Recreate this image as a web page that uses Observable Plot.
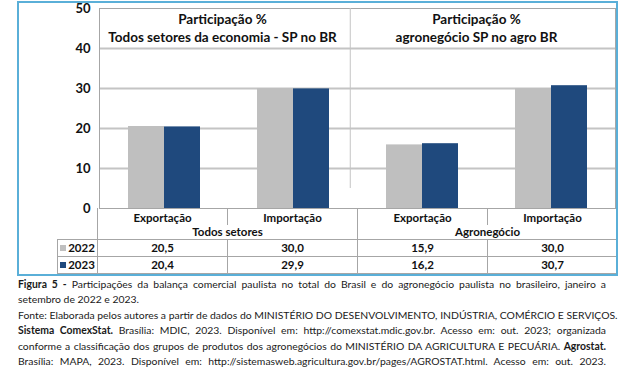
<!DOCTYPE html>
<html>
<head>
<meta charset="utf-8">
<script src="https://cdn.jsdelivr.net/npm/d3@7"></script>
<script src="https://cdn.jsdelivr.net/npm/@observablehq/plot@0.6"></script>
<style>
  html, body { margin: 0; padding: 0; background: #fff; }
  body { width: 624px; height: 379px; position: relative; overflow: hidden; font-family: Lato, sans-serif; }
  #chart { position: absolute; left: 0; top: 0; }
  #border { position: absolute; left: 17px; top: 1px; width: 601px; height: 275px; box-sizing: border-box; border: 2px solid #5aafd8; pointer-events: none; z-index: 5; }
  #tbl { position: absolute; left: 57px; top: 208px; border-collapse: collapse; table-layout: fixed; font: bold 11.5px Lato, sans-serif; color: #111; }
  #tbl td { padding: 0; text-align: center; border: 1px solid #a6a6a6; line-height: 12px; white-space: nowrap; }
  #tbl tr.cat td { height: 17px; padding-top: 2px; border-top: none; border-bottom: none; box-sizing: border-box; }
  #tbl tr.grp td { height: 14px; border-top: none; }
  #tbl tr.val td { height: 16px; }
  #tbl td.blank { border: none; }
  .sw { display: inline-block; width: 6px; height: 6px; margin-right: 2px; vertical-align: 1px; }
  #caption { position: absolute; left: 18px; top: 277px; width: 588px; font-size: 10.4px; line-height: 15.4px; color: #1a1a1a; font-family: Lato, sans-serif; }
  #caption div { white-space: nowrap; text-align: justify; text-align-last: justify; }
  #caption div.left { text-align: left; text-align-last: left; }
</style>
</head>
<body>
<div id="chart"></div>
<table id="tbl"></table>
<div id="border"></div>
<div id="caption"></div>
<script>
// ---- data ----
const categories = ["Exportação", "Importação", "Exportação", "Importação"];
const groups = ["Todos setores", "Todos setores", "Agronegócio", "Agronegócio"];
const years = [2022, 2023];
const values2022 = [20.5, 30.0, 15.9, 30.0];
const values2023 = [20.4, 29.9, 16.2, 30.7];
const yTicks = [0, 10, 20, 30, 40, 50];
const gridTicks = [10, 20, 30, 40];
const titleAll = "Participação %\nTodos setores da economia - SP no BR";
const titleAgro = "Participação %\nagronegócio SP no agro BR";
const colors = ["#bfbfbf", "#1f497d"];
const captionLines = [
  "<b>Figura 5 -</b> Participações da balança comercial paulista no total do Brasil e do agronegócio paulista no brasileiro, janeiro a",
  "setembro de 2022 e 2023.",
  "Fonte: Elaborada pelos autores a partir de dados do MINISTÉRIO DO DESENVOLVIMENTO, INDÚSTRIA, COMÉRCIO E SERVIÇOS.",
  "<b>Sistema ComexStat.</b> Brasília: MDIC, 2023. Disponível em: http://comexstat.mdic.gov.br. Acesso em: out. 2023; organizada",
  "conforme a classificação dos grupos de produtos dos agronegócios do MINISTÉRIO DA AGRICULTURA E PECUÁRIA. <b>Agrostat.</b>",
  "Brasília: MAPA, 2023. Disponível em: http://sistemasweb.agricultura.gov.br/pages/AGROSTAT.html. Acesso em: out. 2023."
];

// ---- derived table ----
const keys = categories.map((c, i) => groups[i] + "|" + c);
const seriesValues = [values2022, values2023];
const rows = keys.flatMap((k, i) => years.map((yr, j) => ({key: k, year: yr, value: seriesValues[j][i]})));
const fmt = v => v.toFixed(1).replace(".", ",");

const chart = Plot.plot({
  width: 624,
  height: 226,
  marginLeft: 97,
  marginRight: 8,
  marginTop: 8,
  marginBottom: 18,
  style: {fontFamily: "Lato, sans-serif", background: "transparent", overflow: "visible"},
  fx: {domain: keys, padding: 0, axis: null},
  x: {domain: years, paddingInner: 0, paddingOuter: 0.753, axis: null},
  y: {domain: [0, 50], axis: null},
  color: {domain: years, range: colors},
  marks: [
    Plot.ruleY(gridTicks, {stroke: "#c4c4c4", strokeWidth: 2}),
    Plot.ruleY([0, 50], {stroke: "#a6a6a6", strokeWidth: 1}),
    Plot.frame({anchor: "left", facetAnchor: "left", stroke: "#a6a6a6"}),
    Plot.frame({anchor: "right", facetAnchor: "right", stroke: "#a6a6a6"}),
    Plot.ruleX([{key: keys[1], year: years[1]}], {fx: "key", x: "year", y1: 5, y2: 50, dx: 38.75, stroke: "#c4c4c4", strokeWidth: 1}),
    Plot.barY(rows, {fx: "key", x: "year", y: "value", fill: "year"}),
    Plot.axisY({ticks: yTicks, tickSize: 0, tickPadding: 9, fontWeight: "bold", fontSize: 13, label: null, fill: "#111"}),
    Plot.text([{key: keys[0], t: titleAll}], {fx: "key", text: "t", frameAnchor: "top-right", textAnchor: "middle", lineAnchor: "top", dx: -6, dy: 3, lineHeight: 1.33, fontSize: 13.5, fontWeight: "bold", fill: "#111"}),
    Plot.text([{key: keys[2], t: titleAgro}], {fx: "key", text: "t", frameAnchor: "top-right", textAnchor: "middle", lineAnchor: "top", dx: -10, dy: 3, lineHeight: 1.33, fontSize: 13.5, fontWeight: "bold", fill: "#111"})
  ]
});
document.getElementById("chart").append(chart);

// ---- table below ----
const tbl = document.getElementById("tbl");
let html = '<colgroup><col style="width:40px">' + keys.map(() => '<col style="width:130px">').join("") + '</colgroup>';
html += '<tr class="cat"><td class="blank"></td>' + categories.map(c => `<td>${c}</td>`).join("") + '</tr>';
const groupNames = [...new Set(groups)];
html += '<tr class="grp"><td class="blank"></td>' + groupNames.map(g => `<td colspan="${groups.filter(x => x === g).length}">${g}</td>`).join("") + '</tr>';
years.forEach((yr, j) => {
  html += `<tr class="val"><td><span class="sw" style="background:${colors[j]}"></span>${yr}</td>` +
    seriesValues[j].map(v => `<td>${fmt(v)}</td>`).join("") + '</tr>';
});
tbl.innerHTML = html;

document.getElementById("caption").innerHTML = captionLines.map((l, i) => `<div class="${i === 1 ? "left" : ""}">${l}</div>`).join("");
</script>
</body>
</html>
